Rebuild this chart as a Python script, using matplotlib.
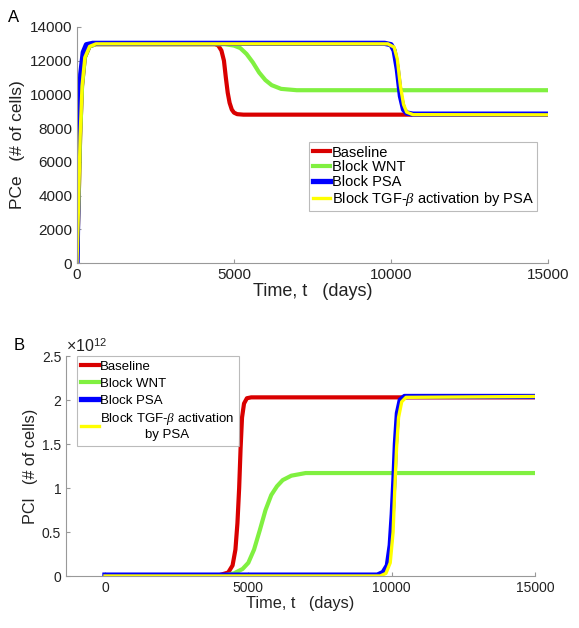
import matplotlib
matplotlib.use("Agg")
import matplotlib.pyplot as plt

plt.rcParams['font.family'] = ['Liberation Sans', 'DejaVu Sans']
plt.rcParams['mathtext.fontset'] = 'custom'
plt.rcParams['mathtext.rm'] = 'Liberation Sans'
plt.rcParams['mathtext.it'] = 'Liberation Serif:italic'

labels = ['Baseline', 'Block WNT', 'Block PSA', r'Block TGF-$\beta$ activation by PSA']
labels_b = ['Baseline', 'Block WNT', 'Block PSA', 'Block TGF-$\\beta$ activation\nby PSA']
colors = ['#d90000', '#80f040', '#0000ff', '#ffff00']
widths = [3.0, 3.0, 3.8, 2.4]

# ---- panel A: PCe (# of cells) ----
t_red_a = [0, 50, 100, 160, 250, 400, 600, 4400, 4500, 4600, 4680, 4740, 4800, 4860, 4930, 5000, 5100, 5300, 15000]
pce_red = [0, 3500, 7500, 10500, 12200, 12850, 12980, 12980, 12900, 12600, 12000, 11000, 10100, 9500, 9100, 8920, 8830, 8800, 8800]

t_grn_a = [0, 50, 100, 160, 250, 400, 600, 4700, 5000, 5200, 5400, 5600, 5800, 6000, 6200, 6500, 7000, 15000]
pce_grn = [0, 3500, 7500, 10500, 12200, 12850, 12980, 12980, 12900, 12750, 12400, 11900, 11300, 10850, 10550, 10330, 10250, 10250]

t_blu_a = [0, 30, 70, 120, 200, 300, 500, 9800, 10000, 10100, 10200, 10300, 10400, 10500, 10700, 15000]
pce_blu = [0, 4000, 8500, 11200, 12500, 12950, 13030, 13030, 12950, 12600, 11500, 9900, 9100, 8900, 8830, 8830]

t_yel_a = [0, 50, 100, 160, 250, 400, 600, 9900, 10100, 10200, 10300, 10400, 10500, 10700, 15000]
pce_yel = [0, 3500, 7500, 10500, 12200, 12850, 13000, 13000, 12800, 12100, 10500, 9400, 8950, 8800, 8790]

# ---- panel B: PCl (# of cells), units of 1e12 ----
t_red_b = [0, 4000, 4300, 4450, 4550, 4620, 4680, 4730, 4780, 4850, 4950, 5100, 15000]
pcl_red = [0.01, 0.01, 0.04, 0.12, 0.3, 0.6, 1.0, 1.45, 1.8, 1.96, 2.02, 2.03, 2.03]

t_grn_b = [0, 4200, 4500, 4800, 5000, 5200, 5400, 5600, 5800, 6000, 6200, 6500, 7000, 15000]
pcl_grn = [0.01, 0.01, 0.03, 0.08, 0.15, 0.3, 0.52, 0.75, 0.92, 1.02, 1.09, 1.14, 1.17, 1.17]

t_blu_b = [0, 9500, 9700, 9850, 9950, 10020, 10080, 10130, 10200, 10300, 10450, 15000]
pcl_blu = [0.01, 0.01, 0.04, 0.12, 0.35, 0.7, 1.1, 1.5, 1.85, 2.0, 2.04, 2.04]

t_yel_b = [0, 9600, 9800, 9950, 10050, 10110, 10170, 10240, 10350, 10500, 15000]
pcl_yel = [0.0, 0.0, 0.03, 0.15, 0.5, 1.0, 1.45, 1.8, 1.98, 2.03, 2.04]

fig = plt.figure(figsize=(5.79, 6.28), dpi=100)
axA = fig.add_axes([77/579, 1-263/628, 471/579, 236/628])
axB = fig.add_axes([66/579, 1-576/628, 469/579, 220/628])

for t, y, c, w in zip([t_red_a, t_grn_a, t_blu_a, t_yel_a], [pce_red, pce_grn, pce_blu, pce_yel], colors, widths):
    axA.plot(t, y, color=c, lw=w)
for t, y, c, w in zip([t_red_b, t_grn_b, t_blu_b, t_yel_b], [pcl_red, pcl_grn, pcl_blu, pcl_yel], colors, widths):
    axB.plot(t, y, color=c, lw=w)

axA.set_xlim(0, 15000)
axA.set_ylim(0, 14000)
axA.set_xticks([0, 5000, 10000, 15000])
axA.set_yticks(range(0, 14001, 2000))
axB.set_xlim(-1360, 15000)
axB.set_ylim(0, 2.5)
axB.set_xticks([0, 5000, 10000, 15000])
axB.set_yticks([0, 0.5, 1, 1.5, 2, 2.5])
axB.set_yticklabels(['0', '0.5', '1', '1.5', '2', '2.5'])

for ax, tsz, lsz in ((axA, 11, 13), (axB, 10, 11.7)):
    for s in ('top', 'right'):
        ax.spines[s].set_visible(False)
    for s in ('left', 'bottom'):
        ax.spines[s].set_color('#999999')
        ax.spines[s].set_linewidth(0.8)
    ax.tick_params(direction='in', length=3, color='#999999', labelsize=tsz, labelcolor='#222222')
    ax.set_xlabel('Time, t   (days)', fontsize=lsz, color='#222222', labelpad=1)

axA.set_ylabel('PCe   (# of cells)', fontsize=12.5, color='#222222', labelpad=3)
axB.set_ylabel('PCl   (# of cells)', fontsize=11.7, color='#222222', labelpad=3)

# exponent of the y axis, as matlab puts it
axB.text(0.0, 1.005, r'$\times10^{12}$', transform=axB.transAxes, fontsize=11.5,
         color='#222222', ha='left', va='bottom')

legA = axA.legend(labels, loc='upper left', bbox_to_anchor=(0.493, 0.513), fontsize=10.5,
                  frameon=True, fancybox=False, edgecolor='#aaaaaa', handlelength=1.2,
                  handletextpad=0.1, labelspacing=0.05, borderpad=0.25, borderaxespad=0)
legA.get_frame().set_linewidth(0.8)

legB = axB.legend(labels_b, loc='upper left', bbox_to_anchor=(0.023, 1.0), fontsize=9.5,
                  frameon=True, fancybox=False, edgecolor='#aaaaaa', handlelength=1.3,
                  handletextpad=0.1, labelspacing=0.35, borderpad=0.35, borderaxespad=0)
legB.get_frame().set_linewidth(0.8)
for txt in legB.get_texts():
    txt.set_multialignment('center')

fig.text(14/579, 1-17/628, 'A', fontsize=12, ha='center', va='center')
fig.text(19/579, 1-346/628, 'B', fontsize=12, ha='center', va='center')

fig.savefig('out.png', dpi=100)
